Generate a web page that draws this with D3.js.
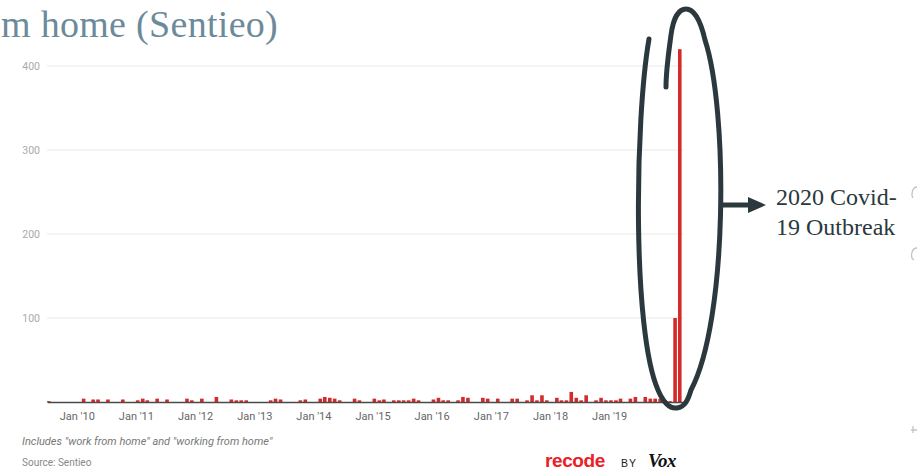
<!DOCTYPE html>
<html>
<head>
<meta charset="utf-8">
<script src="https://cdn.jsdelivr.net/npm/d3@7"></script>
<style>
  html, body { margin: 0; padding: 0; background: #fff; }
  svg { display: block; }
</style>
</head>
<body>
<svg id="chart" width="917" height="471"></svg>
<script>
// ---- data (monthly counts, first month = Jul 2009) ----
const startMonth = "2009-07";
const v2009 = [1, 0, 0, 0, 0, 0];                     // Jul–Dec
const v2010 = [0, 4, 0, 3, 3, 0, 3, 0, 0, 3, 0, 0];
const v2011 = [2, 4, 2, 0, 4, 0, 3, 0, 0, 0, 4, 2];
const v2012 = [0, 4, 0, 0, 6, 0, 0, 3, 2, 2, 2, 0];
const v2013 = [0, 0, 0, 2, 4, 3, 0, 0, 0, 2, 3, 0];
const v2014 = [0, 4, 6, 5, 4, 2, 0, 0, 4, 2, 0, 0];
const v2015 = [4, 2, 3, 0, 2, 2, 2, 2, 4, 2, 0, 0];
const v2016 = [3, 5, 2, 2, 0, 2, 6, 5, 0, 0, 5, 4];
const v2017 = [0, 4, 0, 0, 4, 4, 0, 2, 8, 2, 8, 2];
const v2018 = [0, 5, 2, 2, 12, 5, 2, 8, 0, 2, 5, 2];
const v2019 = [2, 2, 4, 0, 4, 6, 0, 6, 4, 4, 4, 2];
const v2020 = [1, 100, 420];                          // Jan–Mar
const values = [].concat(v2009, v2010, v2011, v2012, v2013, v2014, v2015, v2016, v2017, v2018, v2019, v2020);

const xTickYears = [2010, 2011, 2012, 2013, 2014, 2015, 2016, 2017, 2018, 2019];
const yTicks = [100, 200, 300, 400];

const titleText = "m home (Sentieo)";   // visible part of the title
const noteText = "Includes \"work from home\" and \"working from home\"";
const sourceText = "Source: Sentieo";
const annotationLines = ["2020 Covid-", "19 Outbreak"];

// ---- build ----
const parseMonth = d3.timeParse("%Y-%m");
const start = parseMonth(startMonth);
const data = values.map((v, i) => ({ date: d3.timeMonth.offset(start, i), value: v }));
const end = d3.timeMonth.offset(start, values.length);

const svg = d3.select("#chart");

const x = d3.scaleTime().domain([start, end]).range([47, 683]);
const y = d3.scaleLinear().domain([0, 400]).range([402, 66]);

// gridlines
svg.append("g")
  .selectAll("line")
  .data(yTicks)
  .join("line")
  .attr("x1", 47).attr("x2", 683)
  .attr("y1", d => y(d)).attr("y2", d => y(d))
  .attr("stroke", "#e8e8e8").attr("stroke-width", 1);

// y labels
svg.append("g")
  .selectAll("text")
  .data(yTicks)
  .join("text")
  .attr("x", 40).attr("y", d => y(d))
  .attr("dy", "0.35em")
  .attr("text-anchor", "end")
  .attr("font-family", "Roboto, sans-serif")
  .attr("font-size", 10.5)
  .attr("fill", "#aaaaaa")
  .text(d => d);

// bars
const bw = 3.6;
svg.append("g")
  .selectAll("rect")
  .data(data.filter(d => d.value > 0))
  .join("rect")
  .attr("x", d => x(d.date))
  .attr("width", bw)
  .attr("y", d => y(d.value))
  .attr("height", d => y(0) - y(d.value))
  .attr("fill", "#d42a2a");

// x axis
const xAxis = d3.axisBottom(x)
  .tickValues(xTickYears.map(yr => new Date(yr, 0, 1)))
  .tickSize(0)
  .tickSizeOuter(0)
  .tickPadding(10)
  .tickFormat(d => "Jan '" + d3.timeFormat("%y")(d));
const gx = svg.append("g").attr("transform", "translate(0,402)").call(xAxis);
gx.select(".domain").attr("stroke", "#4a4a4a").attr("stroke-width", 1.5);
gx.selectAll("text")
  .attr("font-family", "Roboto, sans-serif")
  .attr("font-size", 11)
  .attr("fill", "#666");

// title
svg.append("text")
  .attr("x", 1).attr("y", 37)
  .attr("font-family", "'Liberation Serif', serif")
  .attr("font-size", 38)
  .attr("letter-spacing", 0.3)
  .attr("fill", "#6d8a9a")
  .text(titleText);

// ellipse annotation
const ink = "#2b383e";
svg.append("path")
  .attr("d", "M649,39 C635,120 632,330 658,390 C664,404 670,409 677,408 C685,407 688,400 691,390 " +
             "C728,320 728,110 705,40 C700,18 693,9 686,9 C678,9 673,20 671,35 C669,50 666,70 666,87")
  .attr("fill", "none")
  .attr("stroke", ink)
  .attr("stroke-width", 5)
  .attr("stroke-linecap", "round");

// arrow
svg.append("line")
  .attr("x1", 723).attr("x2", 750)
  .attr("y1", 205).attr("y2", 205)
  .attr("stroke", ink).attr("stroke-width", 5);
svg.append("path")
  .attr("d", "M748,197 L766,205 L748,213 Z")
  .attr("fill", ink);

// annotation text
svg.append("g")
  .selectAll("text")
  .data(annotationLines)
  .join("text")
  .attr("x", 776)
  .attr("y", (d, i) => 205 + i * 30)
  .attr("font-family", "'Liberation Serif', serif")
  .attr("font-size", 24)
  .attr("fill", ink)
  .text(d => d);

// footer
svg.append("text")
  .attr("x", 22).attr("y", 445)
  .attr("font-family", "Roboto, sans-serif")
  .attr("font-style", "italic")
  .attr("font-size", 11)
  .attr("fill", "#777")
  .text(noteText);
svg.append("text")
  .attr("x", 22).attr("y", 466)
  .attr("font-family", "Roboto, sans-serif")
  .attr("font-size", 10)
  .attr("fill", "#888")
  .text(sourceText);

// logo
svg.append("text")
  .attr("x", 545).attr("y", 467)
  .attr("font-family", "'Liberation Sans', Arial, sans-serif")
  .attr("font-weight", "bold")
  .attr("font-size", 19)
  .attr("letter-spacing", -0.4)
  .attr("fill", "#ec2027")
  .text("recode");
svg.append("text")
  .attr("x", 621).attr("y", 467)
  .attr("font-family", "'Liberation Sans', Arial, sans-serif")
  .attr("font-size", 10.5)
  .attr("letter-spacing", 1)
  .attr("fill", "#222")
  .text("BY");
svg.append("text")
  .attr("x", 648).attr("y", 467)
  .attr("font-family", "'Liberation Serif', serif")
  .attr("font-weight", "bold")
  .attr("font-style", "italic")
  .attr("font-size", 19)
  .attr("letter-spacing", -0.5)
  .attr("fill", "#111")
  .text("Vox");

// faint marks cut at the right edge (drawn as shapes)
const edge = svg.append("g").attr("fill", "none").attr("stroke", "#c4c4c4").attr("stroke-width", 1.3);
edge.append("path").attr("d", "M917,187 C912,187 911,195 913,198");
edge.append("path").attr("d", "M917,248 C911,248 910,258 914,260");
edge.append("path").attr("d", "M911,430 L917,430 M913,426 L913,433");
</script>
</body>
</html>
